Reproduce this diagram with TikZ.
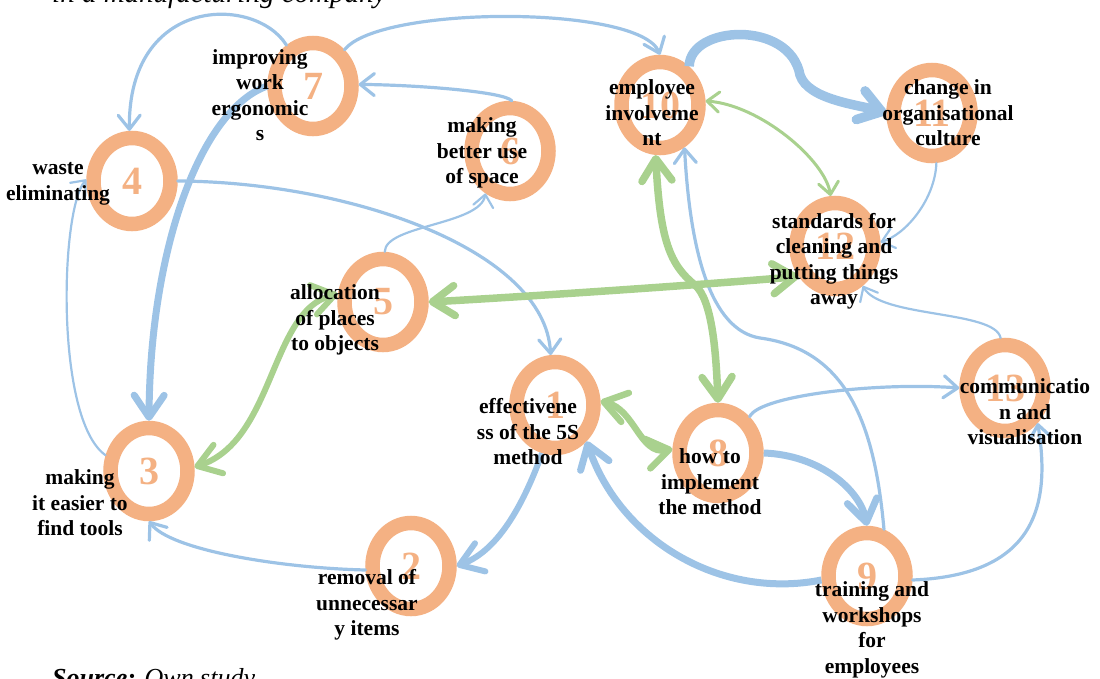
\documentclass[tikz,border=0pt]{standalone}
\usepackage{fontspec}
\setmainfont{Liberation Serif}
\usetikzlibrary{shapes.geometric,arrows.meta}

\definecolor{ringorange}{HTML}{F4B183}
\definecolor{linkblue}{HTML}{9DC3E6}
\definecolor{linkgreen}{HTML}{A9D18E}

\tikzset{
  ring/.style={ellipse, draw=ringorange, line width=14.5pt, minimum width=77pt,
    minimum height=86pt, inner sep=0pt, text=ringorange,
    font=\bfseries\fontsize{40}{40}\selectfont},
  lbl/.style={align=center, inner sep=0pt, font=\bfseries\fontsize{21.5}{25.5}\selectfont},
  bluethin/.style={draw=linkblue, line width=2.2pt, line cap=round,
    -{Straight Barb[length=12pt,width=20pt,round]}},
  bluemid/.style={draw=linkblue, line width=3.2pt, line cap=round,
    -{Straight Barb[length=14pt,width=22pt,round]}},
  bluethick/.style={draw=linkblue, line width=7pt,
    -{Straight Barb[length=22pt,width=30pt,round]}},
  greenthin/.style={draw=linkgreen, line width=3pt, line cap=round,
    {Straight Barb[length=12pt,width=20pt,round]}-{Straight Barb[length=12pt,width=20pt,round]}},
  greenthick/.style={draw=linkgreen, line width=7.5pt,
    {Straight Barb[length=22pt,width=30pt,round]}-{Straight Barb[length=22pt,width=30pt,round]}},
}

\begin{document}
\begin{tikzpicture}[x=1pt, y=-1pt]
    \useasboundingbox (0,0) rectangle (1100,678);

    % 标题和来源
    \node[anchor=base west, inner sep=0pt, font=\itshape\fontsize{29}{29}\selectfont] (title) at (52,2) {in a manufacturing company};
    \node[anchor=base west, inner sep=0pt, font=\fontsize{26}{26}\selectfont] (source) at (52,686) {\textbf{\textit{Source:}} \textit{Own study}};

    % 先画13个圆环
    \node[ring] (n1) at (555,405) {1};
    \node[ring] (n2) at (411,566) {2};
    \node[ring] (n3) at (149,471) {3};
    \node[ring] (n4) at (132,181) {4};
    \node[ring] (n5) at (383,302) {5};
    \node[ring] (n6) at (510,151) {6};
    \node[ring] (n7) at (313,86) {7};
    \node[ring] (n8) at (718,453) {8};
    \node[ring] (n9) at (867,576) {9};
    \node[ring] (n10) at (660,105) {10};
    \node[ring] (n11) at (932,113) {11};
    \node[ring] (n12) at (835,246) {12};
    \node[ring] (n13) at (1005,388) {13};

    % 蓝色箭头
    \draw[bluemid] (n7.123) .. controls (255,-5) and (128,-5) .. (n4.93);
    \draw[bluemid] (n7.49) .. controls (380,5) and (640,5) .. (n10.90);
    \draw[bluemid] (n6.88) .. controls (505,92) and (420,85) .. (n7.2);
    \draw[bluethick] (n7.180) .. controls (200,110) and (150,250) .. (n3.90);
    \draw[bluemid] (n4.0) .. controls (350,182) and (545,250) .. (n1.95);
    \draw[bluethin] (n3.160) .. controls (55,420) and (60,210) .. (n4.178);
    \draw[bluethin] (n5.88) .. controls (385,225) and (480,225) .. (n6.240);
    \draw[bluethick, line width=9.5pt] (n10.53) .. controls (690,25) and (790,20) .. (800,75)
        .. controls (808,100) and (860,105) .. (n11.180);
    \draw[bluethin] (n11.275) .. controls (935,200) and (905,235) .. (n12.5);
    \draw[bluethin] (n13.95) .. controls (995,310) and (880,318) .. (n12.305);
    \draw[bluemid] (n9.70) .. controls (875,430) and (850,350) .. (760,338)
        .. controls (710,330) and (690,250) .. (n10.300);
    \draw[bluemid] (n8.49) .. controls (760,395) and (880,382) .. (n13.180);
    \draw[bluethick] (n8.0) .. controls (820,455) and (860,490) .. (n9.90);
    \draw[bluethick] (n9.185) .. controls (720,600) and (620,540) .. (n1.311);
    \draw[bluemid] (n9.355) .. controls (1040,575) and (1050,500) .. (n13.313);
    \draw[bluethick, line width=6pt] (n1.255) .. controls (525,500) and (500,550) .. (n2.0);
    \draw[bluemid] (n2.185) .. controls (280,568) and (170,550) .. (n3.270);

    % 绿色双向箭头
    \draw[greenthick] (n12.220) .. controls (700,285) and (520,297) .. (n5.0);
    \draw[greenthick, line width=6pt] (n5.170) .. controls (270,310) and (275,440) .. (n3.5);
    \draw[greenthin] (n10.5) .. controls (760,105) and (825,160) .. (n12.95);
    \draw[greenthick] (n10.265) .. controls (660,240) and (670,265) .. (695,285)
        .. controls (712,300) and (716,350) .. (n8.90);
    \draw[greenthick, line width=6.5pt] (n1.5) .. controls (635,410) and (640,455) .. (n8.175);

    % 文字标签
    \node[lbl] (l1) at (528,432) {effectivene\\ss of the 5S\\method};
    \node[lbl] (l2) at (367,605) {removal of\\unnecessar\\y items};
    \node[lbl] (l3) at (80,503) {making\\it easier to\\find tools};
    \node[lbl] (l4) at (58,184) {waste\\eliminating};
    \node[lbl] (l5) at (335,320) {allocation\\of places\\to objects};
    \node[lbl] (l6) at (482,153) {making\\better use\\of space};
    \node[lbl] (l7) at (260,95) {improving\\work\\ergonomic\\s};
    \node[lbl] (l8) at (710,482) {how to\\implement\\the method};
    \node[lbl] (l9) at (872,630) {training and\\workshops\\for\\employees};
    \node[lbl] (l10) at (652,113) {employee\\involveme\\nt};
    \node[lbl] (l11) at (948,113) {change in\\organisational\\culture};
    \node[lbl] (l12) at (834,261) {standards for\\cleaning and\\putting things\\away};
    \node[lbl] (l13) at (1025,412) {communicatio\\n and\\visualisation};
\end{tikzpicture}
\end{document}
